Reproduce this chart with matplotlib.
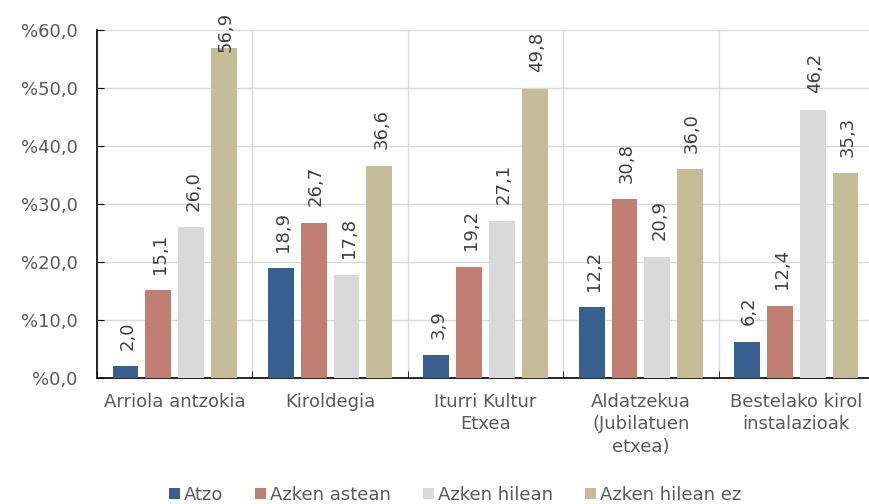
import matplotlib.pyplot as plt
import numpy as np
from matplotlib.ticker import FuncFormatter, MultipleLocator, FixedLocator

categories = ["Arriola antzokia", "Kiroldegia", "Iturri Kultur\nEtxea",
              "Aldatzekua\n(Jubilatuen\netxea)", "Bestelako kirol\ninstalazioak"]
series = ["Atzo", "Azken astean", "Azken hilean", "Azken hilean ez"]
atzo = [2.0, 18.9, 3.9, 12.2, 6.2]
azken_astean = [15.1, 26.7, 19.2, 30.8, 12.4]
azken_hilean = [26.0, 17.8, 27.1, 20.9, 46.2]
azken_hilean_ez = [56.9, 36.6, 49.8, 36.0, 35.3]
colors = ["#37608F", "#C17E72", "#D9D9D9", "#C4BD97"]

txt = "#595959"
fs = 13
plt.rcParams['font.family'] = ['DejaVu Sans']

fig = plt.figure(figsize=(8.7, 5.04), dpi=100)
ax = fig.add_axes([97/870, 1 - 378/504, 777/870, 348/504])

x = np.arange(len(categories))
w = 0.166
step = 0.211
data = [atzo, azken_astean, azken_hilean, azken_hilean_ez]
labels = []
for i, (vals, col, name) in enumerate(zip(data, colors, series)):
    pos = x + (i - 1.5) * step
    ax.bar(pos, vals, w, color=col, label=name, zorder=3)
    for p, v in zip(pos, vals):
        t = ax.annotate(f"{v:.1f}".replace(".", ","), (p, v), xytext=(1.5, 12),
                        textcoords="offset points", rotation=90, ha="center",
                        va="bottom", fontsize=fs, color="#404040")
        labels.append(t)

ax.set_xlim(-0.5, len(categories) - 0.5)
ax.set_ylim(0, 60)
ax.yaxis.set_major_locator(MultipleLocator(10))
ax.yaxis.set_major_formatter(FuncFormatter(lambda v, p: "%" + f"{v:.1f}".replace(".", ",")))
ax.set_xticks(x)
ax.set_xticklabels(categories, fontsize=fs, color=txt, linespacing=1.3)
ax.xaxis.set_minor_locator(FixedLocator(np.arange(-0.5, len(categories), 1)))
ax.tick_params(axis="x", which="major", length=0, pad=11)
ax.tick_params(axis="x", which="minor", direction="in", length=5, color="black")
ax.tick_params(axis="y", direction="in", length=5, labelsize=fs, labelcolor=txt, pad=14)
ax.grid(axis="y", which="major", color="#D9D9D9", lw=1, zorder=0)
ax.grid(axis="x", which="minor", color="#D9D9D9", lw=1, zorder=0)
for s in ["top", "right"]:
    ax.spines[s].set_visible(False)
for s in ["left", "bottom"]:
    ax.spines[s].set_color("black")
    ax.spines[s].set_linewidth(1.2)

leg = fig.legend(loc="center", bbox_to_anchor=(0.523, 1 - 495/504), ncol=4,
                 frameon=False, fontsize=fs, handlelength=0.6, handleheight=0.6,
                 handletextpad=0.2, columnspacing=1.8)
for t in leg.get_texts():
    t.set_color(txt)

# push labels that would leave the figure back down (like Excel does)
fig.canvas.draw()
r = fig.canvas.get_renderer()
for t in labels:
    bb = t.get_window_extent(r)
    over = bb.y1 - (fig.bbox.height - 12)
    if over > 0:
        ox, oy = t.xyann
        t.xyann = (ox, oy - over * 72 / fig.dpi)

fig.savefig("out.png", dpi=100)
